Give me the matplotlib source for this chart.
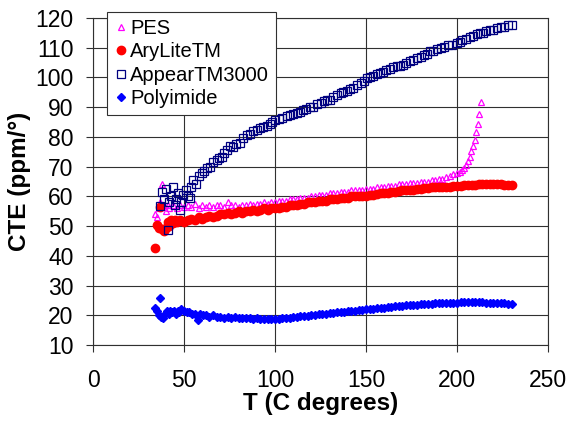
import matplotlib
matplotlib.use("Agg")
import matplotlib.pyplot as plt

plt.rcParams['font.family'] = ['Liberation Sans', 'DejaVu Sans']

# PES (open magenta triangles)
pes_t = [34, 35, 36, 37, 38, 39, 40, 41, 42, 44, 46, 48, 50, 52, 54, 56, 58, 60, 62, 64, 66, 68,
         70, 72, 74, 76, 78, 80, 82, 84, 86, 88, 90, 92, 94, 96, 98, 100, 102, 104, 106, 108, 110,
         112, 114, 116, 118, 120, 122, 124, 126, 128, 130, 132, 134, 136, 138, 140, 142, 144, 146,
         148, 150, 152, 154, 156, 158, 160, 162, 164, 166, 168, 170, 172, 174, 176, 178, 180, 182,
         184, 186, 188, 190, 192, 194, 196, 198, 200, 201.5, 202.6, 204, 205.1, 206, 207, 207.9,
         209, 209.9, 210.6, 211.4, 212.3, 213.2]
pes_v = [54, 53, 56, 58, 64, 57, 55, 57, 56, 57, 56, 57, 56.5, 57, 56.5, 57.5, 56, 57, 56.5, 57,
         56.5, 57, 57, 56.5, 58, 57, 57, 56.5, 57, 57, 57.5, 57, 57.5, 57.5, 58, 57.5, 58, 58, 58.5,
         58.5, 58.5, 59, 59, 59, 59.5, 59.5, 59.5, 60, 60, 60.5, 60.5, 60.5, 61, 61, 61, 61.5, 61.5,
         61.5, 62, 62, 62, 62, 62.5, 62.5, 62.5, 63, 63, 63, 63.5, 63.5, 63.5, 64, 64, 64, 64.5,
         64.5, 64.5, 65, 65, 65, 65.5, 65.5, 66, 66, 66.5, 67, 67.5, 68, 68.3, 68.8, 69.5, 70.6,
         72, 73.4, 75.1, 76.8, 79, 81.5, 84.4, 87.8, 91.6]

# AryLiteTM (filled red circles)
ary_t = [34, 35, 36, 37, 38, 39, 40, 41, 42, 43, 44, 45, 46, 48, 50, 52, 54, 56, 58, 60, 62, 64,
         66, 68, 70, 72, 74, 76, 78, 80, 82, 84, 86, 88, 90, 92, 94, 96, 98, 100, 102, 104, 106,
         108, 110, 112, 114, 116, 118, 120, 122, 124, 126, 128, 130, 132, 134, 136, 138, 140, 142,
         144, 146, 148, 150, 152, 154, 156, 158, 160, 162, 164, 166, 168, 170, 172, 174, 176, 178,
         180, 182, 184, 186, 188, 190, 192, 194, 196, 198, 200, 202, 204, 206, 208, 210, 212, 214,
         216, 218, 220, 222, 224, 226, 228, 230]
ary_v = [42.6, 50.4, 49.5, 56.5, 49, 48.5, 49.5, 51.5, 50, 52, 51, 52, 51.5, 52, 51.5, 52, 52.5,
         52, 53, 52.5, 53, 53.5, 53, 53.5, 54, 54, 54.5, 54, 54.5, 55, 54.5, 55, 55, 55.5, 55,
         55.5, 56, 55.5, 56, 56, 56, 56.5, 56.5, 57, 57, 57, 57.5, 57.5, 58, 58, 58, 58.5, 58.5,
         58.5, 59, 59, 59, 59.5, 59.5, 59.5, 60, 60, 60, 60, 60.2, 60.5, 60.5, 60.8, 61, 61, 61.2,
         61.5, 61.5, 61.8, 62, 62, 62.2, 62.3, 62.5, 62.5, 62.7, 62.8, 63, 63, 63, 63.2, 63.3,
         63.3, 63.5, 63.5, 63.6, 63.7, 63.8, 63.8, 63.9, 64, 64, 64, 64, 64, 64, 64, 63.9, 63.8,
         63.8]

# AppearTM3000 (open navy squares)
app_t = [36.8, 38, 39, 40, 41.2, 42, 43, 44, 45, 45.6, 46.5, 47.8, 48.5, 49.6, 51, 52, 53.3, 54,
         55.1, 56.5, 58, 59.7, 61, 62.5, 64.3, 66, 68, 69.5, 70.7, 72, 73.5, 75.3, 77, 78.5, 80.8,
         82.5, 84.4, 86, 88, 89.9, 91.5, 93.5, 95.4, 97, 98.5, 100, 102, 104, 106.4, 108, 110, 112,
         113.7, 115.5, 117, 119, 121, 123, 125, 127, 128.4, 130.2, 132, 134, 136, 137.5, 139.4,
         141, 143, 145, 147, 148.7, 150.4, 152, 154, 156, 157.7, 159.5, 161, 163, 165, 167, 168.8,
         170.5, 172, 174, 176, 178, 180, 182, 183.5, 185.2, 187, 189, 191, 193, 195, 197, 199.8,
         201.5, 203, 205, 207, 209, 210.8, 212.6, 214.5, 216, 218, 220, 222, 224, 226, 228, 230]
app_v = [56.8, 61.5, 59, 62.5, 48.7, 58, 60, 63.3, 57, 59, 61, 55.5, 58, 60.5, 62, 60, 59.4, 63,
         65.5, 64, 67, 67.8, 68.5, 69.5, 70, 71.5, 72.3, 73, 73.4, 74.5, 75.5, 76.8, 76.5, 77.5,
         77.9, 79.5, 80.7, 81, 82, 82.4, 83, 83.5, 83.7, 84.5, 85, 85.8, 86, 86.5, 86.9, 87.5,
         87.8, 88, 88.5, 89, 89.5, 90, 90.2, 91, 91.5, 92, 92.5, 92.5, 93.5, 94, 94.7, 95, 95.3,
         96, 96.5, 97.5, 98, 98.8, 99.8, 100, 100.5, 101, 101.5, 102, 102.5, 103, 103.5, 103.8,
         104, 104.3, 105, 105.5, 106, 106.5, 107, 107.5, 108, 108.8, 109, 109.5, 110, 110.3,
         110.8, 111, 111.6, 112, 112.5, 113, 113.5, 114, 114.5, 114.9, 115, 115.5, 116, 116,
         116.5, 117, 117, 117.5, 117.7]

# Polyimide (filled blue diamonds)
pi_t = [34, 35, 36, 36.8, 37.5, 38.5, 39.5, 40.5, 41.5, 42.5, 43.5, 44.5, 45.5, 46.5, 47.5, 48.5,
        50, 51.5, 53, 54.5, 56, 57.5, 59, 60.5, 62, 64, 66, 68, 70, 72, 74, 76, 78, 80, 82, 84, 86,
        88, 90, 92, 94, 96, 98, 100, 102, 104, 106, 108, 110, 112, 114, 116, 118, 120, 122, 124,
        126, 128, 130, 132, 134, 136, 138, 140, 142, 144, 146, 148, 150, 152, 154, 156, 158, 160,
        162, 164, 166, 168, 170, 172, 174, 176, 178, 180, 182, 184, 186, 188, 190, 192, 194, 196,
        198, 200, 202, 204, 206, 208, 210, 212, 214, 216, 218, 220, 222, 224, 226, 228, 230]
pi_v = [22.5, 21.5, 20, 25.9, 19.5, 19, 20.5, 21.5, 20.5, 21.5, 21, 21.5, 20.5, 21.5, 21, 22,
        21.5, 21, 21, 20.5, 20.5, 18.5, 20.5, 20, 20, 19.5, 20, 19.5, 19.5, 19, 19.5, 19, 19.5,
        19, 19, 19, 19, 18.8, 19, 18.8, 18.8, 18.7, 18.8, 18.8, 18.8, 19, 19, 19.2, 19.3, 19.5,
        19.6, 19.8, 19.8, 20, 20.2, 20.3, 20.5, 20.5, 20.7, 20.8, 21, 21, 21.2, 21.3, 21.5, 21.5,
        21.7, 21.8, 22, 22, 22.2, 22.3, 22.5, 22.5, 22.7, 22.8, 23, 23, 23.2, 23.3, 23.4, 23.5,
        23.6, 23.7, 23.8, 23.8, 23.9, 24, 24, 24, 24, 24.1, 24.2, 24.2, 24.3, 24.3, 24.4, 24.4,
        24.3, 24.3, 24.3, 24.2, 24.2, 24.2, 24.1, 24, 24, 23.9, 23.8]

fig = plt.figure(figsize=(5.71, 4.21), dpi=100)
ax = fig.add_axes([93/571, 1 - 345/421, 455/571, 327/421])

ax.plot(pes_t, pes_v, linestyle='none', marker='^', ms=5, mfc='none', mec='#FF00FF',
        mew=0.9, label='PES')
ax.plot(ary_t, ary_v, linestyle='none', marker='o', ms=6, mfc='#FF0000', mec='#FF0000',
        label='AryLiteTM')
ax.plot(app_t, app_v, linestyle='none', marker='s', ms=6, mfc='none', mec='#000080',
        mew=0.9, label='AppearTM3000')
ax.plot(pi_t, pi_v, linestyle='none', marker='D', ms=4.5, mfc='#0000FF', mec='#0000FF',
        label='Polyimide')

ax.set_xlim(0, 250)
ax.set_ylim(10, 120)
ax.set_xticks(range(0, 251, 50))
ax.set_yticks(range(10, 121, 10))
ax.grid(True, color='#303030', lw=0.8)
ax.set_axisbelow(True)
for s in ax.spines.values():
    s.set_color('#303030')
    s.set_linewidth(0.8)
ax.tick_params(labelsize=16.5, length=5, width=0.8, color='#303030', direction='out')
ax.tick_params(axis='x', pad=12)
ax.tick_params(axis='y', pad=9)
ax.set_xlabel('T (C degrees)', fontsize=17.5, fontweight='bold', labelpad=0)
ax.set_ylabel('CTE (ppm/°)', fontsize=17.5, fontweight='bold', labelpad=3)

leg = ax.legend(loc='upper left', bbox_to_anchor=(107/571, 1 - 12/421),
                bbox_transform=fig.transFigure, fontsize=14.5, frameon=True, fancybox=False,
                handlelength=0.7, handletextpad=0.1, borderpad=0.35, labelspacing=0.22,
                borderaxespad=0)
leg.get_frame().set_edgecolor('#303030')
leg.get_frame().set_linewidth(0.8)
leg.get_frame().set_alpha(1)

fig.savefig('out.png', dpi=100)
